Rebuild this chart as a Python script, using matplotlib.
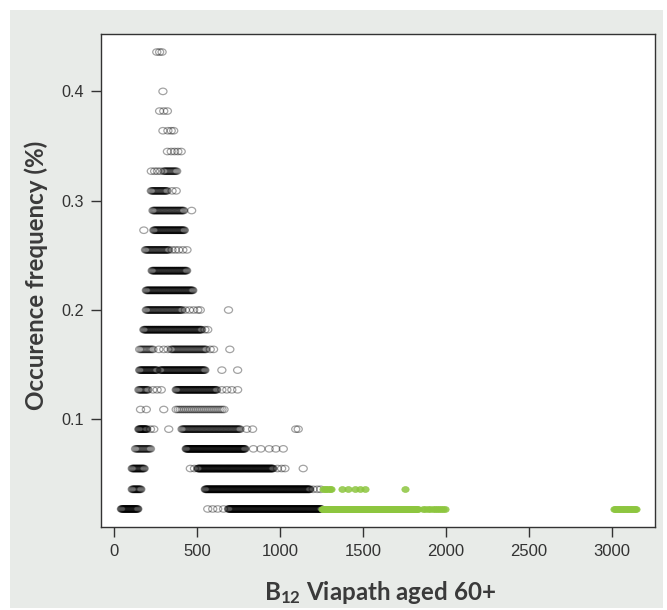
import numpy as np
import matplotlib.pyplot as plt
from matplotlib.patches import Rectangle
from matplotlib.path import Path

# occurrence frequency (%) of each B12 value -> one row per level
freq_levels = [0.018, 0.036, 0.055, 0.073, 0.091, 0.109, 0.127, 0.145,
               0.164, 0.182, 0.200, 0.218, 0.236, 0.255, 0.273, 0.291,
               0.309, 0.327, 0.345, 0.364, 0.382, 0.400, 0.436]

# B12 values seen at each level: single values, or (first, last, step) runs
b12_values = [
    [(45, 145, 3), 565, 595, 625, 660, (690, 1250, 3), (1254, 1830, 4),
     (1860, 1920, 15), (1935, 2000, 12), (3010, 3150, 8)],
    [(110, 165, 4), (550, 1180, 3), 1200, 1225, 1245, (1260, 1310, 10),
     1375, 1410, 1450, 1480, 1510, 1755],
    [(110, 185, 4), 460, 485, (505, 960, 3), 985, 1010, 1030, 1140],
    [(130, 220, 6), (435, 790, 3), 840, 885, 935, 975, 1020],
    [(150, 200, 3), 220, 240, 330, (410, 760, 5), 800, 835, 1095, 1110],
    [160, 195, 300, (375, 665, 12)],
    [(150, 205, 5), 235, 260, 285, (375, 620, 4), 650, 680, 710, 745],
    [(155, 260, 4), (280, 550, 4), 650, 745],
    [(155, 235, 8), 270, 300, 325, (345, 560, 6), 580, 600, 698],
    [(180, 530, 4), 548, 565],
    [(195, 410, 5), 430, 455, 480, 505, 520, 690],
    [(195, 475, 4)],
    [(230, 440, 4)],
    [(190, 330, 5), 350, 370, 390, 415, 440],
    [180, (240, 425, 4)],
    [(235, 420, 5), 468],
    [(225, 320, 5), 350, 375],
    [225, 245, 262, 280, (300, 380, 6)],
    [322, 345, 365, 385, 405],
    [295, 325, 345, 360],
    [275, 300, 322],
    [295],
    [258, 275, 290],
]

upper_limit = 1250  # values above this are highlighted

xs, ys = [], []
for level, row in zip(freq_levels, b12_values):
    for item in row:
        if isinstance(item, tuple):
            vals = list(range(item[0], item[1] + 1, item[2]))
        else:
            vals = [item]
        xs += vals
        ys += [level] * len(vals)
xs = np.array(xs, dtype=float)
ys = np.array(ys)
high = xs > upper_limit

# slightly flattened circle, like the original markers
circ = Path.unit_circle()
oval = Path(circ.vertices * [1.0, 0.8], circ.codes)

plt.rcParams['font.family'] = ['Liberation Sans', 'DejaVu Sans']

fig = plt.figure(figsize=(6.67, 6.10), dpi=100)
fig.patch.set_facecolor('white')
fig.add_artist(Rectangle((10 / 667, 2 / 610), 653 / 667, 598 / 610,
                         transform=fig.transFigure, facecolor='#e8ebe8',
                         edgecolor='none', zorder=-5))

ax = fig.add_axes([101 / 667, 1 - 527 / 610, 554 / 667, 493 / 610])
ax.set_zorder(2)
ax.set_facecolor('white')

ax.scatter(xs[~high], ys[~high], s=34, marker=oval, facecolors='none',
           edgecolors=(0, 0, 0, 0.36), linewidths=0.9)
ax.scatter(xs[high], ys[high], s=28, marker=oval, color='#8dc63f',
           alpha=0.85, linewidths=0.5)

ax.set_xlim(-78, 3259)
ax.set_ylim(0.0015, 0.4525)
ax.set_xticks([0, 500, 1000, 1500, 2000, 2500, 3000])
ax.set_yticks([0.1, 0.2, 0.3, 0.4])
ax.tick_params(direction='out', length=7, width=1, colors='#333333', pad=5)
ax.tick_params(axis='x', labelsize=12)
ax.tick_params(axis='y', labelsize=11.7)
for sp in ax.spines.values():
    sp.set_color('#333333')
    sp.set_linewidth(1)

lab = dict(family=['Lato', 'DejaVu Sans'], fontweight='bold', fontsize=17.4,
           color='#3a3a3a')
ax.set_xlabel(r'B$\mathregular{_{12}}$ Viapath aged 60+', **lab)
ax.set_ylabel('Occurence frequency (%)', **lab)
ax.xaxis.set_label_coords(0.5036, -0.1055)
ax.yaxis.set_label_coords(-0.096, 0.511)

fig.savefig('out.png', dpi=100)
